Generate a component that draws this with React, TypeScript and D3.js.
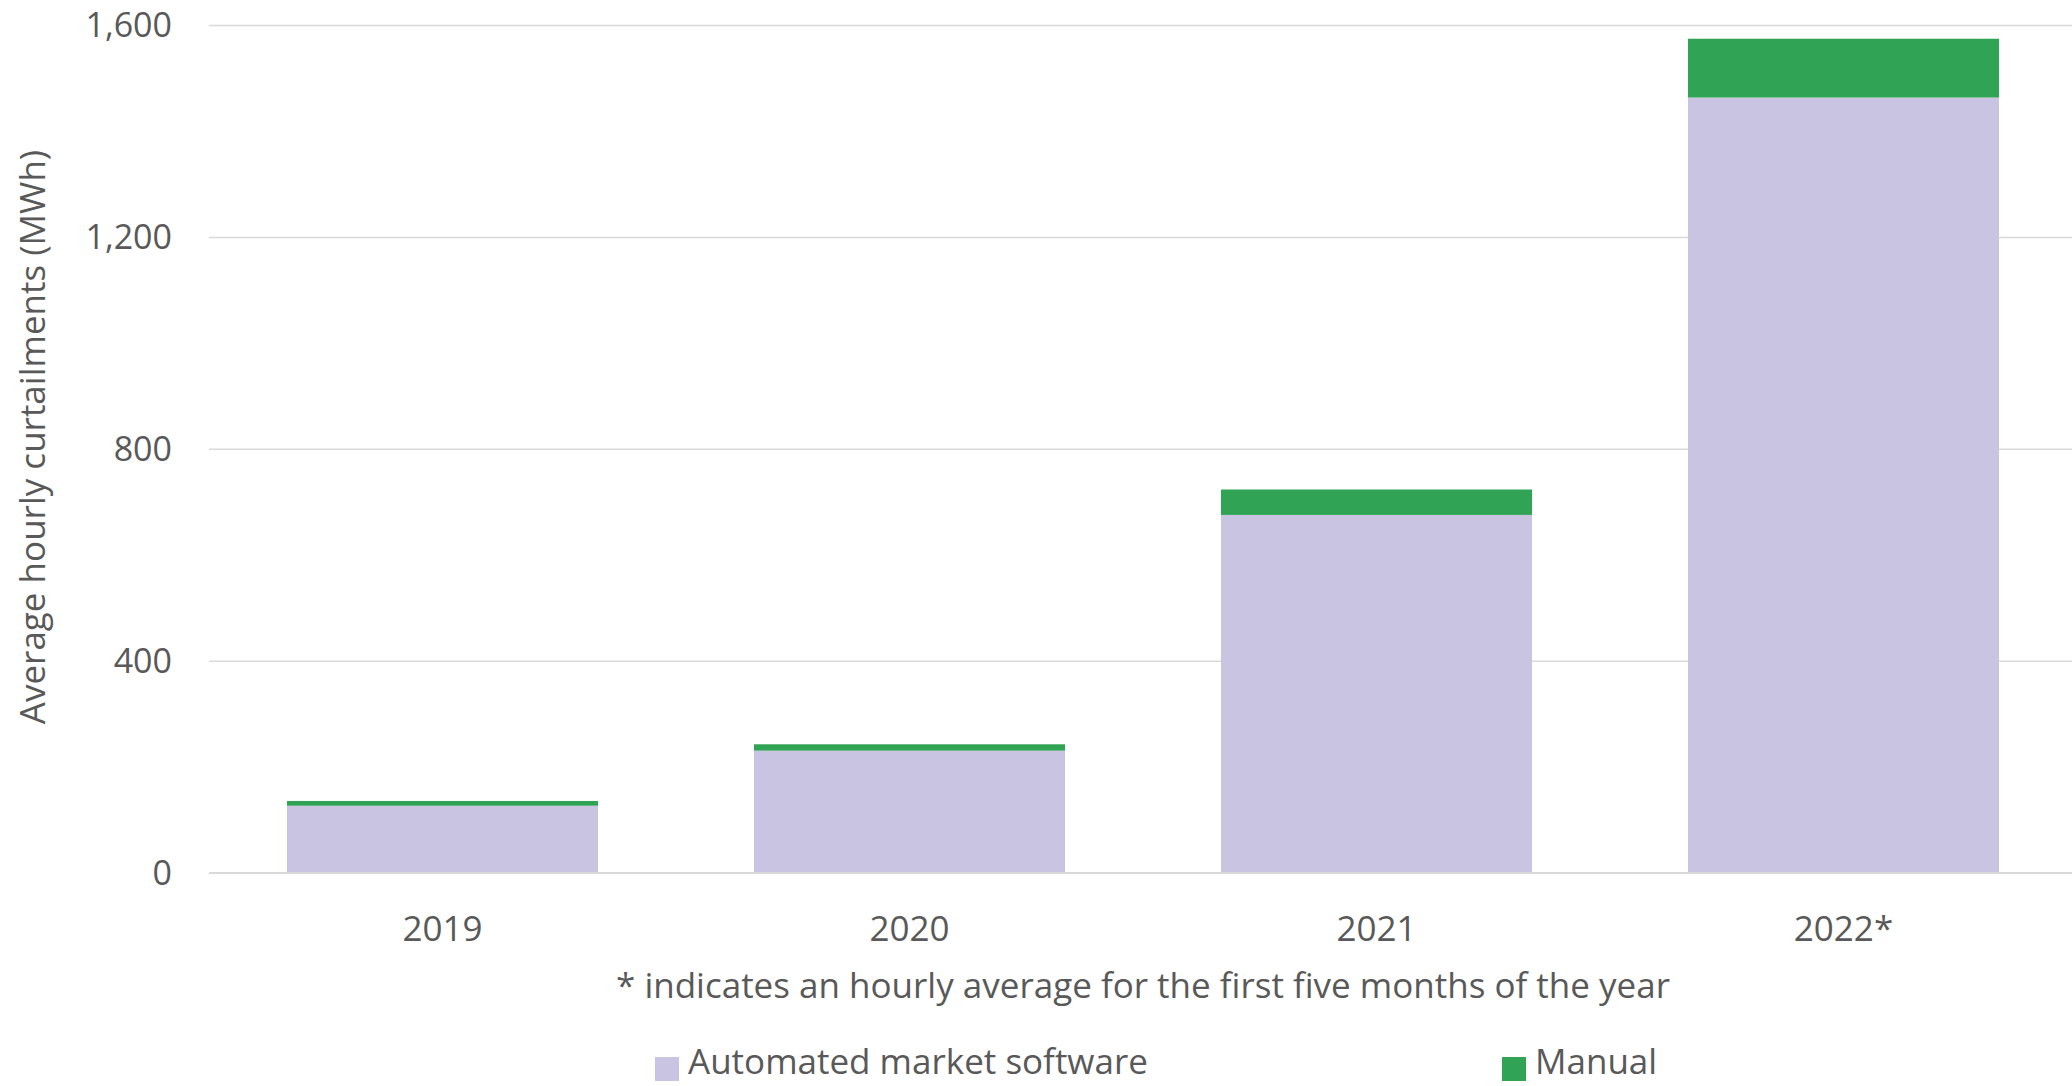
import React from "react";
import * as d3 from "d3";

const categories = ["2019", "2020", "2021", "2022*"];
const automated = [127, 231, 676, 1464];
const manual = [9, 12, 48, 111];
const yTicks = [0, 400, 800, 1200, 1600];
const seriesNames = ["Automated market software", "Manual"];
const seriesColors = ["#C8C4E1", "#31A354"];

const W = 2072;
const H = 1086;
const FONT = "'Open Sans', 'Noto Sans', sans-serif";
const TEXT = "#595959";

export default function App() {
  const left = 209;
  const right = 2077;
  const top = 25.5;
  const bottom = 873;

  const x = d3.scaleBand<string>().domain(categories).range([left, right]).paddingInner(0.334).paddingOuter(0.167);
  const y = d3.scaleLinear().domain([0, 1600]).range([bottom, top]);

  const rows = categories.map((c, i) => ({ cat: c, automated: automated[i], manual: manual[i] }));
  const stack = d3.stack<any>().keys(["automated", "manual"])(rows);

  return (
    <svg width={W} height={H} style={{ position: "absolute", left: 0, top: 0, background: "#fff" }} fontFamily={FONT}>
      {yTicks.map((t) => (
        <g key={t}>
          {t !== 0 && <line x1={left} x2={W} y1={y(t)} y2={y(t)} stroke="#D9D9D9" strokeWidth={1.5} />}
          <text x={172} y={y(t)} dy="0.35em" textAnchor="end" fontSize={34} fill={TEXT}>
            {d3.format(",")(t)}
          </text>
        </g>
      ))}
      {stack.map((s, si) => (
        <g key={si} fill={seriesColors[si]}>
          {s.map((d, i) => (
            <rect key={i} x={x(categories[i])} width={x.bandwidth()} y={y(d[1])} height={y(d[0]) - y(d[1])} />
          ))}
        </g>
      ))}
      <line x1={left} x2={W} y1={y(0)} y2={y(0)} stroke="#D9D9D9" strokeWidth={2} />
      {categories.map((c) => (
        <text key={c} x={(x(c) as number) + x.bandwidth() / 2} y={929} dy="0.35em" textAnchor="middle" fontSize={35} fill={TEXT}>
          {c}
        </text>
      ))}
      <text
        transform={`translate(33,${437}) rotate(-90)`}
        textAnchor="middle"
        dy="0.35em"
        fontSize={35}
        fill={TEXT}
      >
        Average hourly curtailments (MWh)
      </text>
      <text x={1143} y={986} dy="0.35em" textAnchor="middle" fontSize={35} fill={TEXT}>
        * indicates an hourly average for the first five months of the year
      </text>
      {[655, 1502].map((lx, i) => (
        <g key={i}>
          <rect x={lx} y={1057} width={24} height={24} fill={seriesColors[i]} />
          <text x={lx + 33} y={1062} dy="0.35em" fontSize={35} fill={TEXT}>
            {seriesNames[i]}
          </text>
        </g>
      ))}
    </svg>
  );
}
